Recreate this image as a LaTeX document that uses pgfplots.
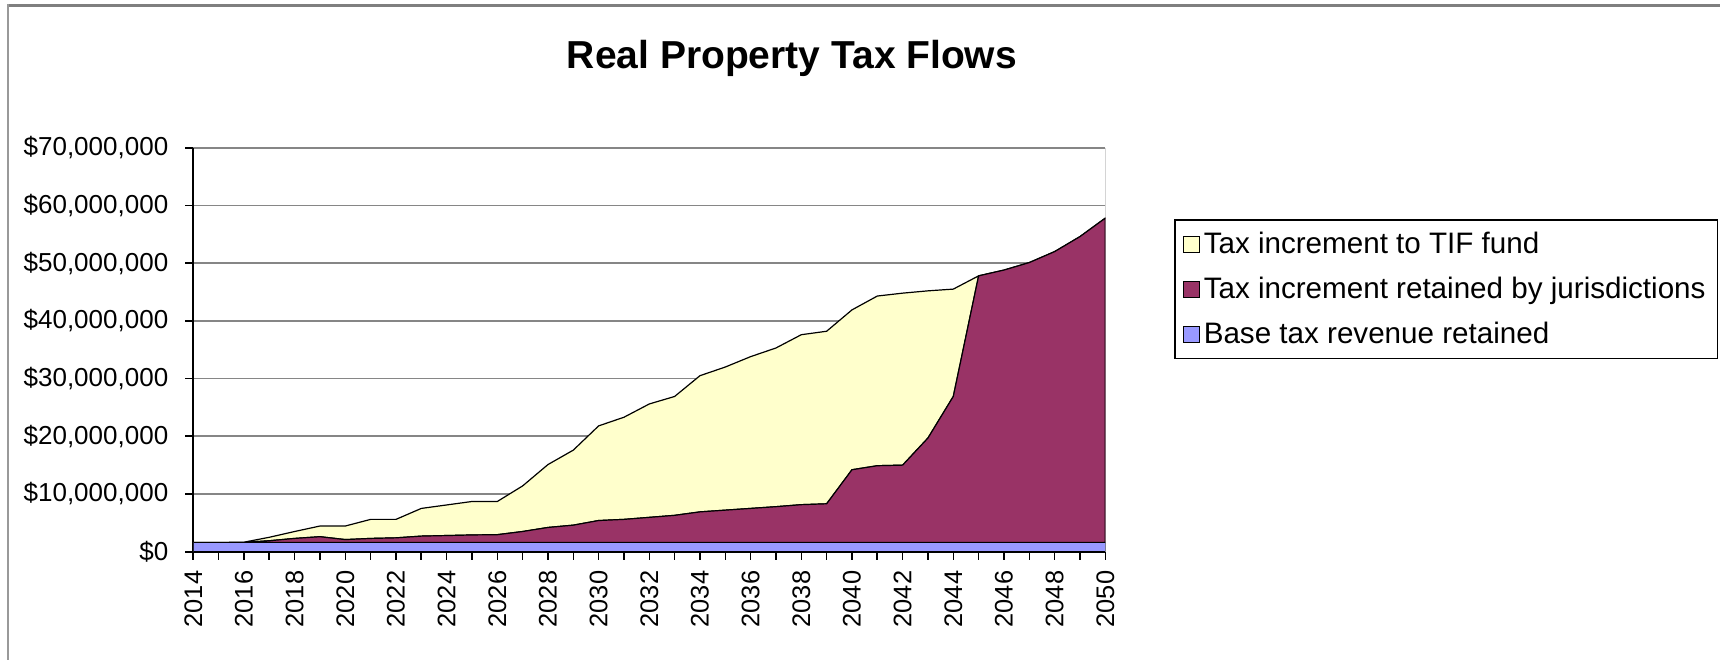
\documentclass[border=0pt]{standalone}
\usepackage{fontspec}
\setmainfont{Liberation Sans}
\usepackage{pgfplots}
\usepackage{pgfplotstable}
\pgfplotsset{compat=1.18}
\definecolor{tifc}{HTML}{FFFFCC}
\definecolor{jurc}{HTML}{993366}
\definecolor{basec}{HTML}{9999FF}
\definecolor{gridc}{HTML}{868686}
\definecolor{framec}{HTML}{7F7F7F}

\pgfplotstableread{
year base juris tif
2014 1600000 0 0
2015 1600000 0 0
2016 1600000 0 50000
2017 1600000 300000 600000
2018 1600000 700000 1200000
2019 1600000 1000000 1850000
2020 1600000 500000 2350000
2021 1600000 700000 3300000
2022 1600000 800000 3200000
2023 1600000 1100000 4800000
2024 1600000 1200000 5300000
2025 1600000 1300000 5800000
2026 1600000 1350000 5750000
2027 1600000 1900000 7900000
2028 1600000 2600000 10900000
2029 1600000 3000000 13000000
2030 1600000 3800000 16400000
2031 1600000 4000000 17700000
2032 1600000 4350000 19650000
2033 1600000 4700000 20600000
2034 1600000 5300000 23600000
2035 1600000 5600000 24800000
2036 1600000 5900000 26300000
2037 1600000 6200000 27500000
2038 1600000 6550000 29450000
2039 1600000 6700000 29900000
2040 1600000 12600000 27700000
2041 1600000 13300000 29400000
2042 1600000 13400000 29800000
2043 1600000 18100000 25500000
2044 1600000 25300000 18600000
2045 1600000 46200000 0
2046 1600000 47200000 0
2047 1600000 48500000 0
2048 1600000 50400000 0
2049 1600000 53000000 0
2050 1600000 56200000 0
}\datatable

\begin{document}
\begin{tikzpicture}
\path[use as bounding box] (0pt,0pt) rectangle (860pt,330pt);
\draw[framec, line width=1.5pt] (4.15pt,327.15pt) -- (860pt,327.15pt);
\draw[gray!80, line width=1pt] (4.15pt,327.9pt) -- (4.15pt,0pt);
\node[font=\fontsize{19.5}{23}\selectfont\bfseries] at (396pt,300.7pt) {Real Property Tax Flows};
\begin{axis}[
  at={(96.65pt,54.15pt)}, anchor=south west,
  scale only axis, width=456pt, height=202pt,
  xmin=2014, xmax=2050, ymin=0, ymax=70000000,
  scaled y ticks=false,
  stack plots=y,
  axis lines=left,
  axis line style={-, black, line width=0.8pt},
  tick align=outside,
  major tick length=4pt, minor tick length=4pt,
  tick style={black, line width=0.8pt},
  xtick={2014,2016,...,2050},
  minor xtick={2015,2017,...,2049},
  xticklabels={2014,2016,2018,2020,2022,2024,2026,2028,2030,2032,2034,2036,2038,2040,2042,2044,2046,2048,2050},
  xticklabel style={rotate=90, anchor=east, font=\fontsize{12.7}{14}\selectfont},
  xticklabel shift=2pt,
  ytick={0,10000000,...,70000000},
  yticklabels={\$0,{\$10,000,000},{\$20,000,000},{\$30,000,000},{\$40,000,000},{\$50,000,000},{\$60,000,000},{\$70,000,000}},
  yticklabel style={font=\fontsize{13}{15}\selectfont},
  yticklabel shift=5pt,
  ymajorgrids,
  grid style={gridc, line width=0.8pt},
  reverse legend,
  legend cell align=left,
  legend image code/.code={\draw[#1,draw=black,line width=0.5pt] (0pt,-4pt) rectangle (8pt,4pt);},
  legend style={at={(1.0753,0.8235)}, anchor=north west, draw=black, line width=0.8pt,
    font=\fontsize{14.8}{17}\selectfont, row sep=6.3pt, inner xsep=4pt, inner ysep=4pt,
    /tikz/every odd column/.append style={column sep=0pt}},
]
\addplot[fill=basec, draw=black, line width=0.6pt] table[x=year,y=base] {\datatable} \closedcycle;
\addlegendentry{Base tax revenue retained}
\addplot[fill=jurc, draw=black, line width=0.6pt] table[x=year,y=juris] {\datatable} \closedcycle;
\addlegendentry{Tax increment retained by jurisdictions}
\addplot[fill=tifc, draw=black, line width=0.6pt] table[x=year,y=tif] {\datatable} \closedcycle;
\addlegendentry{Tax increment to TIF fund}
\draw[gridc, line width=0.8pt] (rel axis cs:1,0) -- (rel axis cs:1,1);
\end{axis}
\end{tikzpicture}
\end{document}
